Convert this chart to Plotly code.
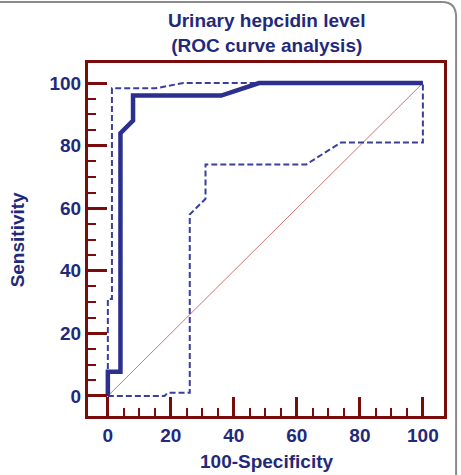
import plotly.graph_objects as go

# ROC curve (100-Specificity vs Sensitivity)
roc_x = [0, 0, 4, 4, 8, 8, 36, 48, 100]
roc_y = [0, 7.7, 7.7, 84, 88, 96, 96, 100, 100]

# Upper confidence bound
upper_x = [0, 0, 1.3, 1.3, 15, 24, 100]
upper_y = [0, 31, 31, 98.3, 98.3, 100, 100]

# Lower confidence bound
lower_x = [0, 18, 19, 26, 26, 31, 31, 63, 74, 100, 100]
lower_y = [0, 0, 1, 1, 58, 63, 74, 74, 81, 81, 100]

# Reference diagonal
diag_x = [0, 100]
diag_y = [0, 100]

tick_vals = [0, 20, 40, 60, 80, 100]
tick_text = ["0", "20", "40", "60", "80", "100"]
minor_vals = [5, 10, 15, 25, 30, 35, 45, 50, 55, 65, 70, 75, 85, 90, 95]

navy = "#2b2f8e"
text_col = "#1f2a7c"
frame_col = "#7a0c0c"
font_fam = "Liberation Sans, Arial, sans-serif"

fig = go.Figure()
fig.add_trace(go.Scatter(x=diag_x, y=diag_y, mode="lines",
                         line=dict(color="#d47272", width=1), hoverinfo="skip"))
fig.add_trace(go.Scatter(x=upper_x, y=upper_y, mode="lines",
                         line=dict(color="#3a3f9c", width=2, dash="6px,3px")))
fig.add_trace(go.Scatter(x=lower_x, y=lower_y, mode="lines",
                         line=dict(color="#3a3f9c", width=2, dash="6px,3px")))
fig.add_trace(go.Scatter(x=roc_x, y=roc_y, mode="lines",
                         line=dict(color=navy, width=4.5)))

axis_common = dict(
    showgrid=False, zeroline=False,
    showline=True, linecolor=frame_col, linewidth=3, mirror=True,
    ticks="inside", ticklen=19, tickwidth=2.5, tickcolor=frame_col,
    tickvals=tick_vals, ticktext=tick_text,
    tickfont=dict(family=font_fam, size=19, color=text_col, weight="bold"),
    minor=dict(ticks="inside", ticklen=8, tickwidth=2, tickcolor=frame_col,
               tickvals=minor_vals, showgrid=False),
)

fig.update_layout(
    width=461, height=475,
    margin=dict(l=88, r=17, t=63, b=59),
    paper_bgcolor="white", plot_bgcolor="white",
    showlegend=False,
    xaxis=dict(range=[-6.3, 106.7], **axis_common),
    yaxis=dict(range=[-6.4, 106.4], **axis_common),
)

fig.add_annotation(text="<b>Urinary hepcidin level<br>(ROC curve analysis)</b>",
                   xref="paper", yref="paper", x=0.5, y=1.0836,
                   xanchor="center", yanchor="middle", showarrow=False,
                   font=dict(family=font_fam, size=19, color=text_col))
fig.add_annotation(text="<b>100-Specificity</b>",
                   xref="paper", yref="paper", x=0.5, y=-0.130,
                   xanchor="center", yanchor="middle", showarrow=False,
                   font=dict(family=font_fam, size=19, color=text_col))
fig.add_annotation(text="<b>Sensitivity</b>", textangle=-90,
                   xref="paper", yref="paper", x=-0.197, y=0.5,
                   xanchor="center", yanchor="middle", showarrow=False,
                   font=dict(family=font_fam, size=19, color=text_col))

# outer image border (top and right, rounded corner)
fig.add_shape(type="path", xref="paper", yref="paper",
              path="M -0.3,1.173 L 0.995,1.173 Q 1.034,1.173 1.034,1.13 L 1.034,-0.2",
              line=dict(color="#8a8a8a", width=2))

fig.write_html("out.html")
